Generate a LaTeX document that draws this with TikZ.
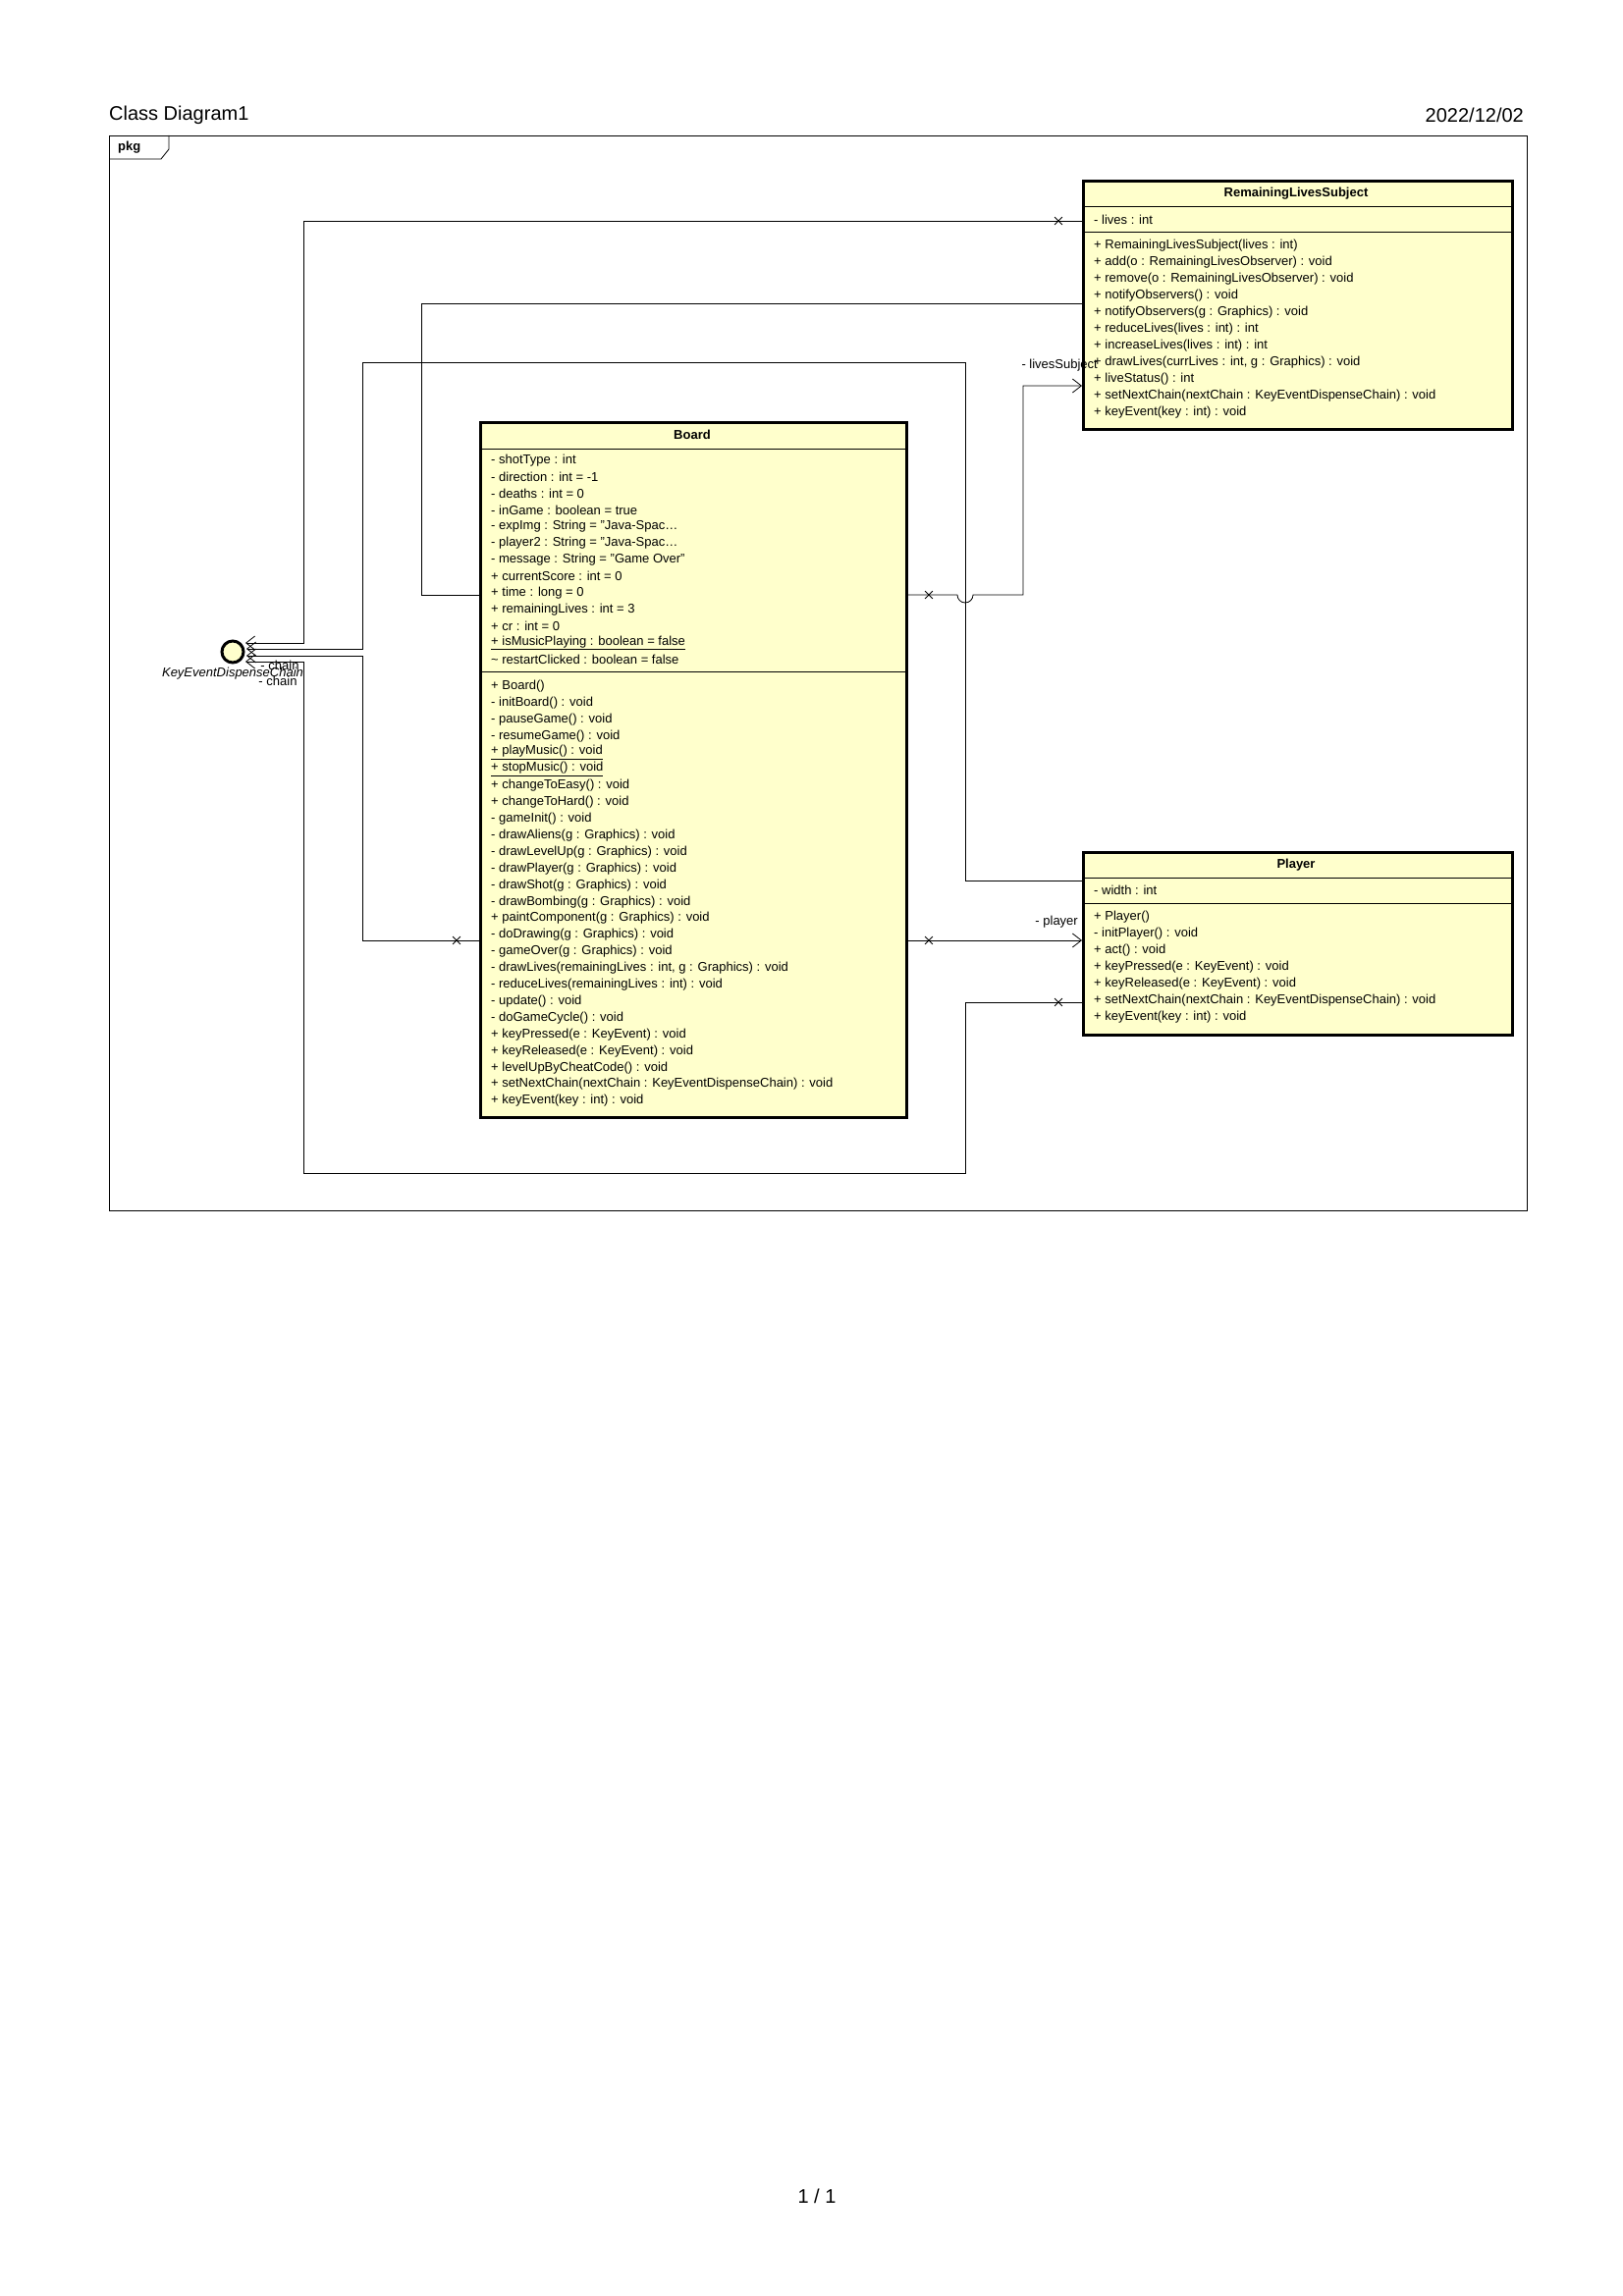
\documentclass[tikz,border=0pt]{standalone}
\usepackage{fontspec}
\setmainfont{Liberation Sans}
\usetikzlibrary{arrows.meta,shapes.misc}
\definecolor{cls}{HTML}{FFFFCC}
\begin{document}
\begin{tikzpicture}[x=1pt,y=-1pt,
  box/.style={draw,line width=3pt,fill=cls,anchor=north west,inner sep=0pt},
  row/.style={anchor=west,inner sep=0pt,font=\fontsize{13}{15}\selectfont},
  ttl/.style={inner sep=0pt,font=\fontsize{13}{15}\selectfont\bfseries},
  lbl/.style={inner sep=0pt,font=\fontsize{13}{15}\selectfont},
  ln/.style={line width=0.8pt},
  arr/.style={ln,-{Straight Barb[length=9pt,width=14pt]}},
  xm/.style={cross out,draw,minimum size=7pt,inner sep=0pt,line width=0.8pt}]
\useasboundingbox (0,0) rectangle (1653,2339);
\node[anchor=west,inner sep=0pt,font=\fontsize{20}{24}\selectfont] (title) at (111,117) {Class Diagram1};
\node[anchor=east,inner sep=0pt,font=\fontsize{20}{24}\selectfont] (date) at (1552,117) {2022/12/02};
\node[inner sep=0pt,font=\fontsize{20}{24}\selectfont] (page) at (832,2237) {1 / 1};
% frame
\draw[line width=0.8pt] (111,138) rectangle (1555,1233);
\draw[line width=0.8pt] (111,162) -- (164,162) -- (172,152) -- (172,138);
\node[anchor=west,inner sep=0pt,font=\fontsize{13}{15}\selectfont\bfseries] (pkg) at (120,150) {pkg};
% RemainingLivesSubject
\node[box,minimum width=437pt,minimum height=253pt] (rls) at (1102,183) {};
\draw[ln] (1102,210) -- (1539,210) (1102,236) -- (1539,236);
\node[ttl] (rlst) at (1320,197) {RemainingLivesSubject};
\node[row] (rlsa) at (1114,224) {- lives : int};
\foreach \t [count=\i] in {{+ RemainingLivesSubject(lives : int)},{+ add(o : RemainingLivesObserver) : void},{+ remove(o : RemainingLivesObserver) : void},{+ notifyObservers() : void},{+ notifyObservers(g : Graphics) : void},{+ reduceLives(lives : int) : int},{+ increaseLives(lives : int) : int},{+ drawLives(currLives : int, g : Graphics) : void},{+ liveStatus() : int},{+ setNextChain(nextChain : KeyEventDispenseChain) : void},{+ keyEvent(key : int) : void}}
  \node[row] at (1114,250+\i*17-17) {\t};
% Board
\node[box,minimum width=434pt,minimum height=708pt] (board) at (488,429) {};
\draw[ln] (488,457) -- (922,457) (488,684) -- (922,684);
\node[ttl] (boardt) at (705,443) {Board};
\foreach \t [count=\i] in {{- shotType : int},{- direction : int = -1},{- deaths : int = 0},{- inGame : boolean = true},{- expImg : String = "Java-Spac\ldots},{- player2 : String = "Java-Spac\ldots},{- message : String = "Game Over"},{+ currentScore : int = 0},{+ time : long = 0},{+ remainingLives : int = 3},{+ cr : int = 0},{\underline{+ isMusicPlaying : boolean = false}},{\textasciitilde{} restartClicked : boolean = false}}
  \node[row] at (500,469+\i*16.9-16.9) {\t};
\foreach \t [count=\i] in {{+ Board()},{- initBoard() : void},{- pauseGame() : void},{- resumeGame() : void},{\underline{+ playMusic() : void}},{\underline{+ stopMusic() : void}},{+ changeToEasy() : void},{+ changeToHard() : void},{- gameInit() : void},{- drawAliens(g : Graphics) : void},{- drawLevelUp(g : Graphics) : void},{- drawPlayer(g : Graphics) : void},{- drawShot(g : Graphics) : void},{- drawBombing(g : Graphics) : void},{+ paintComponent(g : Graphics) : void},{- doDrawing(g : Graphics) : void},{- gameOver(g : Graphics) : void},{- drawLives(remainingLives : int, g : Graphics) : void},{- reduceLives(remainingLives : int) : void},{- update() : void},{- doGameCycle() : void},{+ keyPressed(e : KeyEvent) : void},{+ keyReleased(e : KeyEvent) : void},{+ levelUpByCheatCode() : void},{+ setNextChain(nextChain : KeyEventDispenseChain) : void},{+ keyEvent(key : int) : void}}
  \node[row] at (500,699+\i*16.9-16.9) {\t};
% Player
\node[box,minimum width=437pt,minimum height=186pt] (player) at (1102,867) {};
\draw[ln] (1102,894) -- (1539,894) (1102,920) -- (1539,920);
\node[ttl] (playert) at (1320,881) {Player};
\node[row] (playera) at (1114,907) {- width : int};
\foreach \t [count=\i] in {{+ Player()},{- initPlayer() : void},{+ act() : void},{+ keyPressed(e : KeyEvent) : void},{+ keyReleased(e : KeyEvent) : void},{+ setNextChain(nextChain : KeyEventDispenseChain) : void},{+ keyEvent(key : int) : void}}
  \node[row] at (1114,934+\i*17-17) {\t};
% interface
\node[circle,draw,line width=3pt,fill=cls,minimum size=22pt,inner sep=0pt] (kedc) at (237,664) {};
\node[inner sep=0pt,font=\fontsize{13}{15}\selectfont\itshape] (kedcl) at (237,686) {KeyEventDispenseChain};
% connectors
\coordinate (c1) at (250,655);
\coordinate (c3) at (251,661);
\coordinate (c6) at (251,668);
\coordinate (c7) at (250,674);
\draw[arr] (1102,225) -- (309,225) -- (309,655) -- (c1);
\node[xm] (x1) at (1078,225) {};
\draw[ln] (1102,309) -- (429,309) -- (429,606) -- (488,606);
\draw[arr] (1102,897) -- (983,897) -- (983,369) -- (369,369) -- (369,661) -- (c3);
\draw[arr] (922,606) -- (975,606) arc (180:0:8) -- (1042,606) -- (1042,393) -- (1102,393);
\node[xm] (x4) at (946,606) {};
\node[lbl,anchor=east] (ls) at (1118,372) {- livesSubject};
\draw[arr] (922,958) -- (1102,958);
\node[xm] (x5) at (946,958) {};
\node[lbl,anchor=east] (pl) at (1098,939) {- player};
\draw[arr] (488,958) -- (369,958) -- (369,668) -- (c6);
\node[xm] (x6) at (465,958) {};
\draw[arr] (1102,1021) -- (983,1021) -- (983,1195) -- (309,1195) -- (309,674) -- (c7);
\node[xm] (x7) at (1078,1021) {};
\node[lbl] (ch1) at (285,678) {- chain};
\node[lbl] (ch2) at (283,694) {- chain};
\end{tikzpicture}
\end{document}
